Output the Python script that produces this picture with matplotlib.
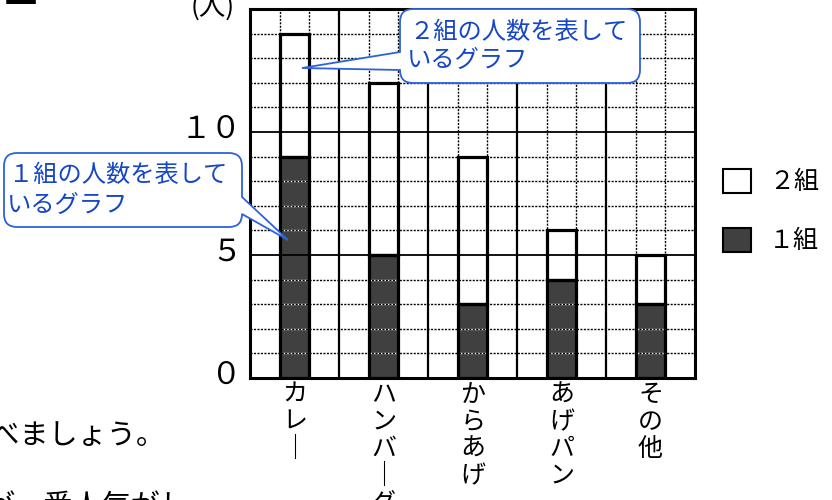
import numpy as np
import matplotlib
matplotlib.use('Agg')
import matplotlib.pyplot as plt
from matplotlib.path import Path
from matplotlib.patches import PathPatch, Patch
from matplotlib.transforms import Affine2D, ScaledTranslation

# 日本語フォント
plt.rcParams['font.family'] = ['Noto Sans CJK JP', 'DejaVu Sans']

categories = ['カレー', 'ハンバーグ', 'からあげ', 'あげパン', 'その他']
class1 = np.array([9, 5, 3, 4, 3])
class2 = np.array([5, 7, 6, 2, 2])
yticks = [0, 5, 10]
ytick_labels = ['０', '５', '１０']
legend_labels = ['２組', '１組']
note2_lines = ['２組の人数を表して', 'いるグラフ']
note1_lines = ['１組の人数を表して', 'いるグラフ']

W, H = 832, 500
fig = plt.figure(figsize=(W / 100, H / 100), dpi=100)
ax = fig.add_axes([250 / W, 1 - 378 / H, (695 - 250) / W, (378 - 9) / H])
# 画像のピクセル座標（左上原点）
px = Affine2D().scale(1 / W, -1 / H).translate(0, 1) + fig.transFigure

dark = '#404040'
blue_txt = '#1646c8'
blue_edge = '#2d62d8'

x = np.arange(len(categories)) * 3 + 1.5
ax.bar(x, class1, width=1, color=dark, zorder=1)
ax.bar(x, class2, width=1, bottom=class1, color='white', zorder=1)
ax.bar(x, class1, width=1, fill=False, edgecolor='black', lw=2.3, zorder=3)
ax.bar(x, class2, width=1, bottom=class1, fill=False, edgecolor='black', lw=2.3, zorder=3)
ax.set_xlim(0, 15)
ax.set_ylim(0, 15)

# 方眼
for yv in range(1, 15):
    if yv % 5:
        ax.axhline(yv, color='white', lw=1.0, zorder=1.5)
        ax.axhline(yv, color='black', lw=1.0, dashes=(1.5, 1), zorder=1.6)
    else:
        ax.axhline(yv, color='black', lw=1.3, zorder=1.8)
for xv in range(1, 15):
    if xv % 3:
        ax.axvline(xv, color='black', lw=1.0, dashes=(1.5, 1), zorder=1.6)
    else:
        ax.axvline(xv, color='black', lw=1.6, zorder=1.8)

for s in ax.spines.values():
    s.set_linewidth(2.2)
    s.set_zorder(4)

ax.set_xticks([])
ax.set_yticks(yticks, ytick_labels, fontsize=22)
ax.tick_params(axis='y', length=0, pad=6)
for lab in ax.get_yticklabels():
    lab.set_transform(lab.get_transform() + ScaledTranslation(0, 0.06, fig.dpi_scale_trans))

# 縦書きの項目名
trans = ax.get_xaxis_transform()
for xi, name in zip(x, categories):
    for i, ch in enumerate(name.replace('ー', '｜')):
        off = ScaledTranslation(0, -(17 + 27 * i) / 100, fig.dpi_scale_trans)
        ax.text(xi, 0, ch, transform=trans + off, ha='center', va='center',
                fontsize=18, clip_on=False)

fig.text(191, 7, '(人)', transform=px, ha='left', va='center', fontsize=19)


def bubble(x0, y0, x1, y1, r, side, a, b, tip):
    v = [(x0 + r, y0), (x1 - r, y0), (x1, y0), (x1, y0 + r)]
    c = [Path.MOVETO, Path.LINETO, Path.CURVE3, Path.CURVE3]
    if side == 'right':
        v += [(x1, a), tip, (x1, b)]
        c += [Path.LINETO] * 3
    v += [(x1, y1 - r), (x1, y1), (x1 - r, y1), (x0 + r, y1), (x0, y1), (x0, y1 - r)]
    c += [Path.LINETO, Path.CURVE3, Path.CURVE3, Path.LINETO, Path.CURVE3, Path.CURVE3]
    if side == 'left':
        v += [(x0, b), tip, (x0, a)]
        c += [Path.LINETO] * 3
    v += [(x0, y0 + r), (x0, y0), (x0 + r, y0), (x0 + r, y0)]
    c += [Path.LINETO, Path.CURVE3, Path.CURVE3, Path.CLOSEPOLY]
    fig.add_artist(PathPatch(Path(v, c), transform=px, fc='white', ec=blue_edge,
                             lw=1.3, zorder=5))


bubble(400, 9, 640, 83, 13, 'left', 52, 70, (302, 68))
fig.text(409, 32, note2_lines[0], transform=px, va='center', fontsize=17.5, color=blue_txt, zorder=6)
fig.text(407, 60, note2_lines[1], transform=px, va='center', fontsize=17.5, color=blue_txt, zorder=6)

bubble(4, 153, 242, 227, 13, 'right', 197, 214, (288, 240))
fig.text(9, 175, note1_lines[0], transform=px, va='center', fontsize=17.5, color=blue_txt, zorder=6)
fig.text(7, 205, note1_lines[1], transform=px, va='center', fontsize=17.5, color=blue_txt, zorder=6)

handles = [Patch(fc='white', ec='black', lw=1.5), Patch(fc=dark, ec='black', lw=1.5)]
fig.legend(handles, legend_labels, loc='center left', bbox_to_anchor=(723 / W, 1 - 211.5 / H),
           frameon=False, fontsize=18, handlelength=1.1, handleheight=1.1,
           handletextpad=0.75, labelspacing=1.3, borderpad=0, borderaxespad=0)

# 切れている周りの文
fig.text(5, 5, '一', transform=px, ha='left', va='center', fontsize=23, fontweight='bold')
fig.text(166, 436, 'くらべましょう。', transform=px, ha='right', va='center', fontsize=21)
fig.text(-15, 507, 'が一番人気がし', transform=px, ha='left', va='center', fontsize=21)

fig.savefig('out.png', dpi=100)
